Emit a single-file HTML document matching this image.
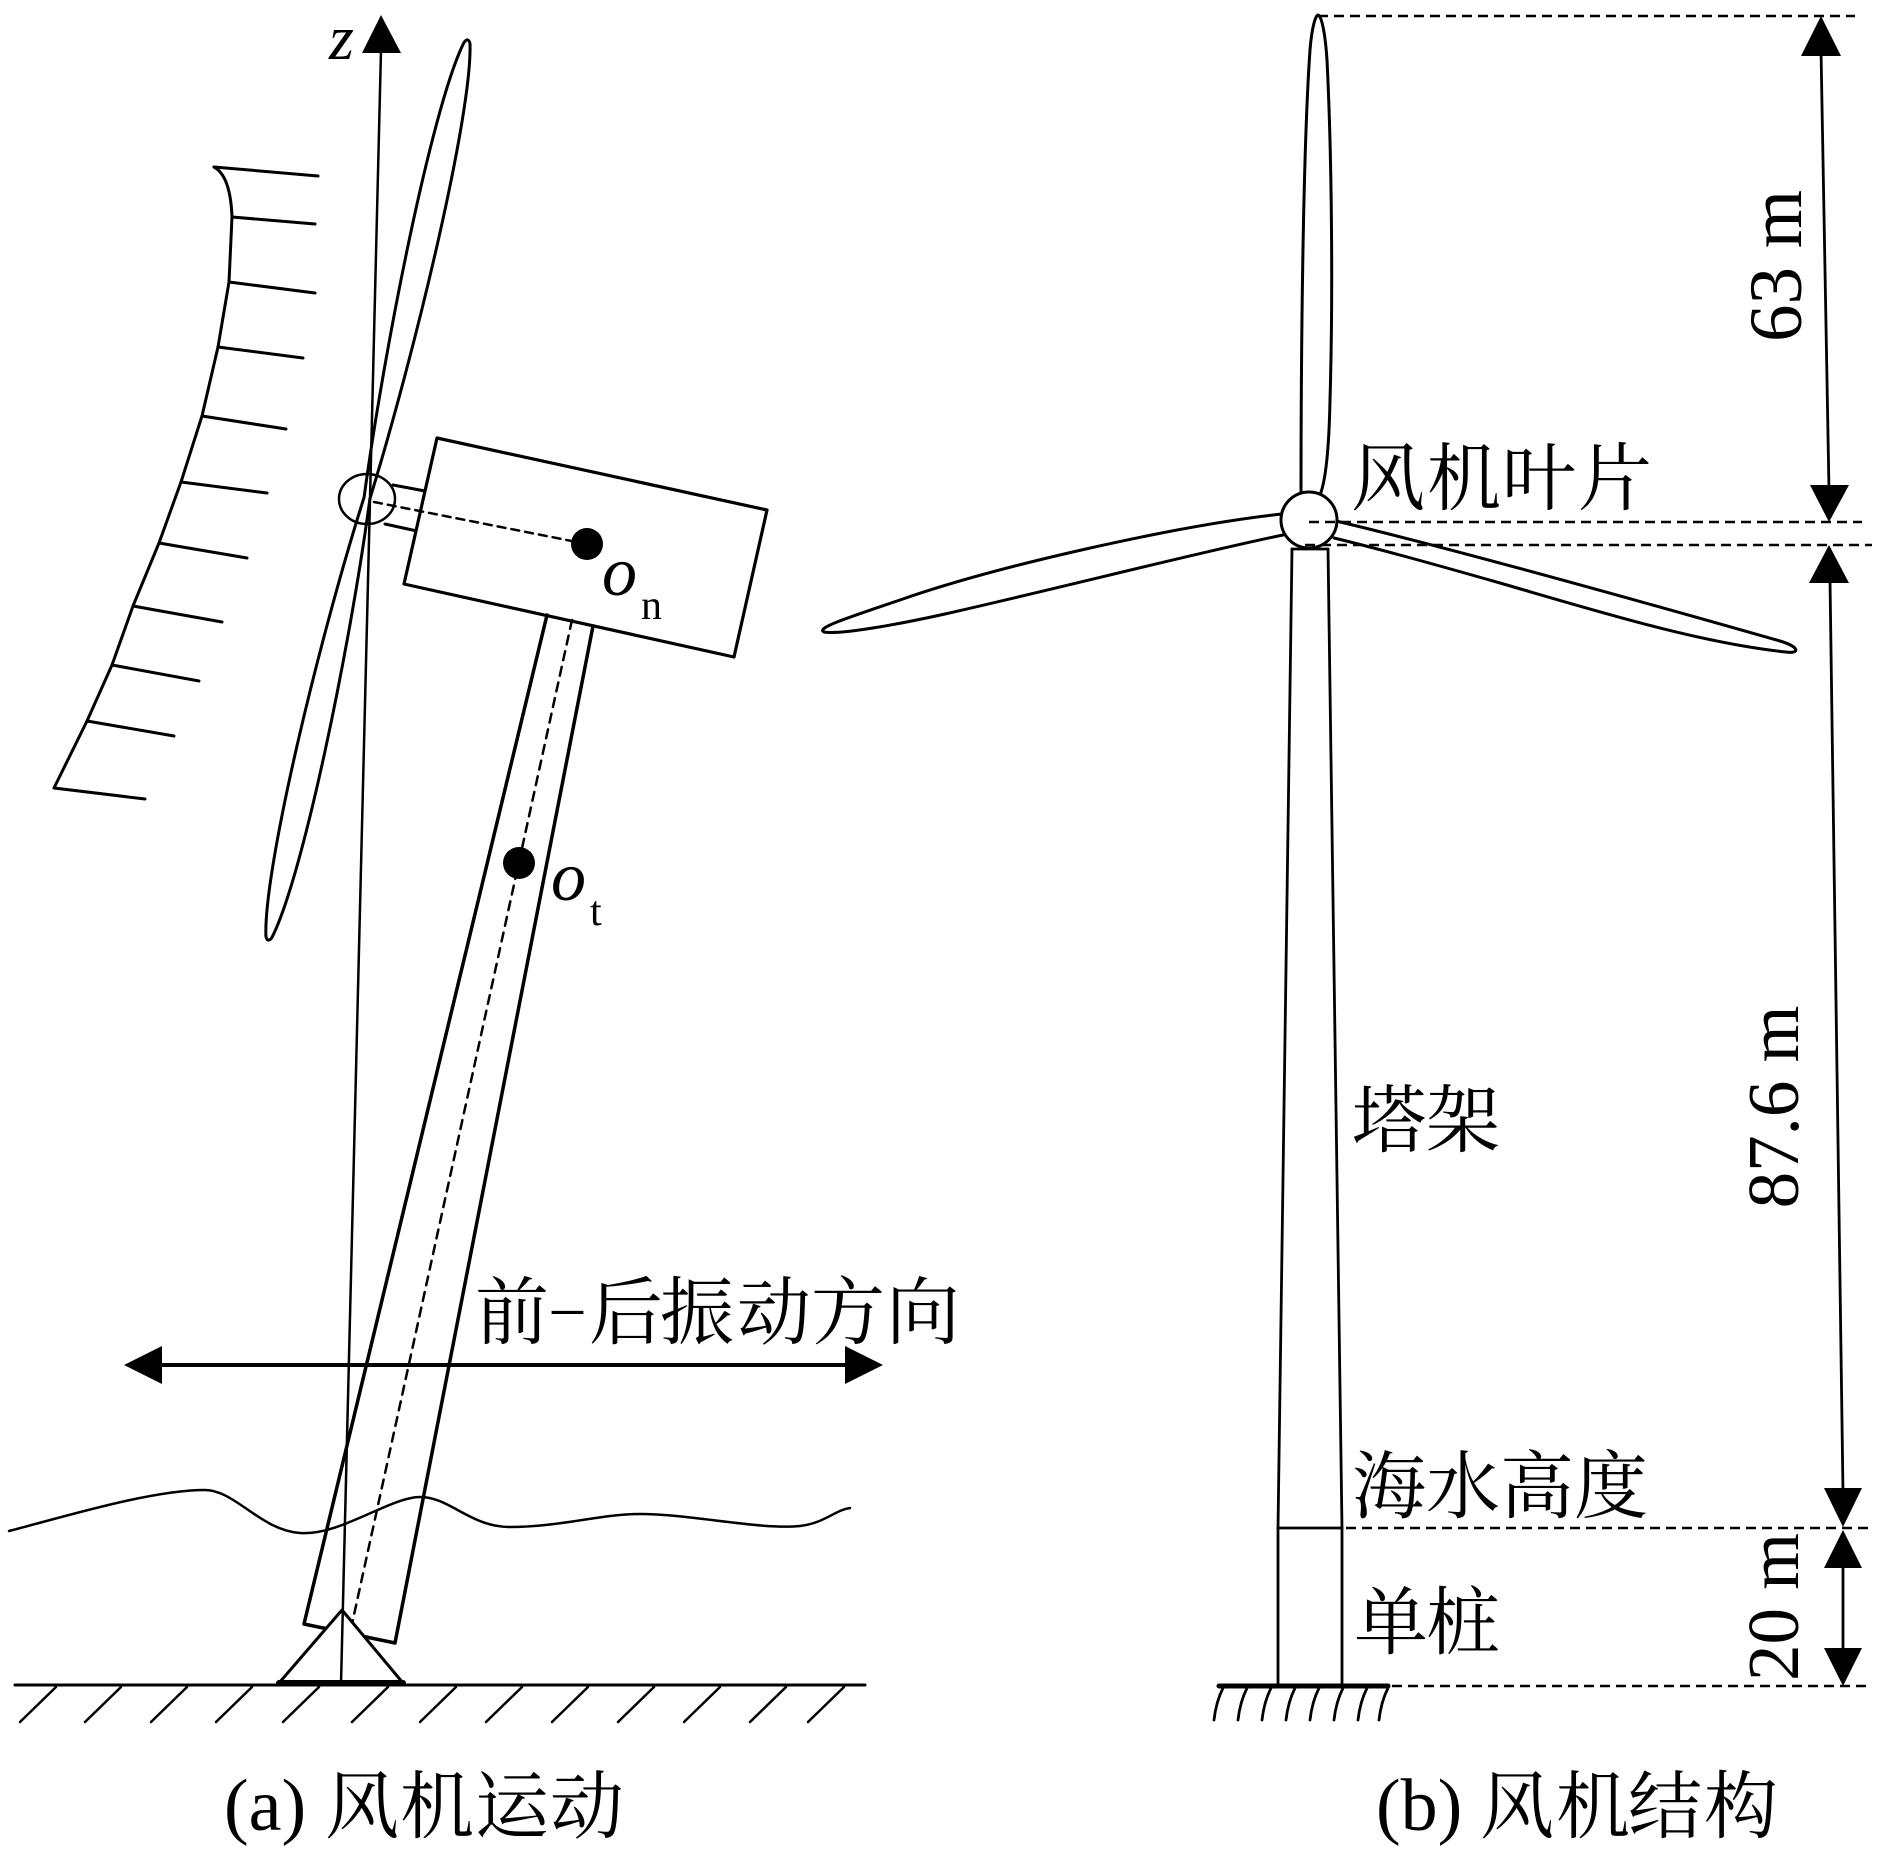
<!DOCTYPE html>
<html><head><meta charset="utf-8"><style>html,body{margin:0;padding:0;background:#fff}svg{display:block}</style></head>
<body>
<svg width="1890" height="1850" viewBox="0 0 1890 1850" xmlns="http://www.w3.org/2000/svg">
<rect width="1890" height="1850" fill="#fff"/>
<g fill="none" stroke="#000" stroke-linecap="round" stroke-linejoin="round">
<!-- ===== Panel (a) ===== -->
<!-- wind profile -->
<line x1="214" y1="167" x2="318" y2="176" stroke-width="3"/>
<path d="M214,167 C225,173 231,190 232,217 L229,282 L218,347 L202,416 L181,482 L159,543 L133,606 L112,665 L87,721 L54,788" stroke-width="3"/>
<g stroke-width="3">
<line x1="232" y1="217" x2="315" y2="224"/>
<line x1="229" y1="282" x2="315" y2="293"/>
<line x1="218" y1="347" x2="303" y2="358"/>
<line x1="202" y1="416" x2="286" y2="429"/>
<line x1="181" y1="482" x2="267" y2="493"/>
<line x1="159" y1="543" x2="247" y2="558"/>
<line x1="133" y1="606" x2="222" y2="622"/>
<line x1="112" y1="665" x2="199" y2="681"/>
<line x1="87" y1="721" x2="174" y2="736"/>
<line x1="54" y1="788" x2="145" y2="799"/>
</g>
<!-- blades (a) -->
<path transform="translate(367,498) rotate(12.4)" d="M-3,0 C-16,-160 -20,-400 -3,-466 Q0,-472 3,-466 C20,-400 16,-160 3,0" stroke-width="3"/>
<path transform="translate(367,498) rotate(12.6)" d="M-3,0 C-16,150 -20,385 -3,450 Q0,456 3,450 C20,385 16,150 3,0" stroke-width="3"/>
<!-- hub (a) -->
<ellipse cx="367" cy="499" rx="28" ry="25" stroke-width="2.5"/>
<!-- shaft -->
<line x1="393" y1="485" x2="425" y2="491" stroke-width="3"/>
<line x1="385" y1="524" x2="417" y2="531" stroke-width="3"/>
<!-- nacelle -->
<polygon points="437,438 767,510 734,657 404,584" fill="#fff" stroke-width="3.2"/>
<line x1="374" y1="502" x2="587" y2="544" stroke-width="2.5" stroke-dasharray="8 6"/>
<!-- tower (a) -->
<polyline points="547,615 304,1624 395,1643 593,626" stroke-width="3.5"/>
<line x1="572" y1="620" x2="350" y2="1633" stroke-width="2.5" stroke-dasharray="9 7"/>
<!-- wave -->
<path d="M9,1531 C60,1518 150,1490 205,1490 C235,1490 260,1530 300,1533 C340,1536 390,1497 420,1497 C450,1497 470,1527 510,1527 C560,1527 600,1514 640,1514 C690,1514 760,1530 800,1526 C825,1523 835,1510 850,1508" stroke-width="2.5"/>
<!-- support triangle -->
<polygon points="342,1610 279,1683 403,1683" fill="#fff" stroke-width="3"/>
<line x1="279" y1="1683" x2="403" y2="1683" stroke-width="6"/>
<!-- z axis -->
<line x1="381" y1="50" x2="341" y2="1684" stroke-width="2.5"/>
<!-- ground -->
<line x1="15" y1="1685" x2="865" y2="1685" stroke-width="3"/>
<g stroke-width="2.5">
<line x1="20" y1="1722" x2="56" y2="1687"/>
<line x1="85" y1="1722" x2="121" y2="1687"/>
<line x1="151" y1="1722" x2="187" y2="1687"/>
<line x1="216" y1="1722" x2="252" y2="1687"/>
<line x1="283" y1="1722" x2="319" y2="1687"/>
<line x1="352" y1="1722" x2="388" y2="1687"/>
<line x1="420" y1="1722" x2="456" y2="1687"/>
<line x1="486" y1="1722" x2="522" y2="1687"/>
<line x1="552" y1="1722" x2="588" y2="1687"/>
<line x1="618" y1="1722" x2="654" y2="1687"/>
<line x1="684" y1="1722" x2="720" y2="1687"/>
<line x1="750" y1="1722" x2="786" y2="1687"/>
<line x1="808" y1="1722" x2="844" y2="1687"/>
</g>
<!-- double arrow -->
<line x1="150" y1="1365" x2="858" y2="1365" stroke-width="4"/>
<!-- ===== Panel (b) ===== -->
<!-- tower -->
<polyline points="1292,549 1278,1528 1278,1686" stroke-width="2.8"/>
<polyline points="1328,549 1342,1528 1342,1686" stroke-width="2.8"/>
<line x1="1292" y1="549" x2="1328" y2="549" stroke-width="2.8"/>
<line x1="1278" y1="1528" x2="1342" y2="1528" stroke-width="2.8"/>
<!-- blades (b) -->
<path d="M1301,495 C1301,350 1303,150 1310,50 C1312,25 1316,15 1318,15 C1321,15 1325,30 1327,60 C1332,160 1333,300 1330,400 C1329,450 1326,480 1320,495" stroke-width="3"/>
<path d="M1282,514 C1180,525 1000,565 900,600 C850,617 815,628 824,632 C840,635 900,624 945,614 C1060,588 1200,552 1283,535" stroke-width="3"/>
<path d="M1336,521 C1450,548 1650,604 1780,641 C1800,647 1800,654 1786,652 C1700,643 1600,612 1500,583 C1430,563 1380,549 1334,538" stroke-width="3"/>
<circle cx="1309" cy="520" r="28" fill="#fff" stroke-width="3"/>
<!-- dashed guides -->
<g stroke-width="2.5" stroke-dasharray="10 6" stroke-linecap="butt">
<line x1="1318" y1="16" x2="1855" y2="16"/>
<line x1="1309" y1="522" x2="1862" y2="522"/>
<line x1="1305" y1="545" x2="1872" y2="545"/>
<line x1="1346" y1="1528" x2="1870" y2="1528"/>
<line x1="1392" y1="1686" x2="1870" y2="1686"/>
</g>
<!-- base hatch (b) -->
<line x1="1219" y1="1686" x2="1388" y2="1686" stroke-width="5"/>
<g stroke-width="2.8">
<path d="M1223,1688 Q1216,1702 1214,1720"/>
<path d="M1247,1688 Q1240,1702 1238,1720"/>
<path d="M1271,1688 Q1264,1702 1262,1720"/>
<path d="M1295,1688 Q1288,1702 1286,1720"/>
<path d="M1319,1688 Q1312,1702 1310,1720"/>
<path d="M1343,1688 Q1336,1702 1334,1720"/>
<path d="M1367,1688 Q1360,1702 1358,1720"/>
<path d="M1388,1688 Q1381,1702 1379,1720"/>
</g>
<!-- dimension lines -->
<line x1="1821" y1="50" x2="1829" y2="490" stroke-width="2.8"/>
<line x1="1830" y1="580" x2="1843" y2="1492" stroke-width="2.8"/>
<line x1="1843" y1="1565" x2="1843" y2="1650" stroke-width="2.8"/>
</g>
<g fill="#000" stroke="none">
<polygon points="381,15 362,53 401,53"/>
<polygon points="124,1365 162,1346 162,1384"/>
<polygon points="883,1365 845,1346 845,1384"/>
<circle cx="587" cy="544" r="16"/>
<circle cx="519" cy="863" r="16"/>
<polygon points="1821,16 1801,56 1841,56"/>
<polygon points="1829,522 1810,485 1849,485"/>
<polygon points="1829,545 1809,583 1849,583"/>
<polygon points="1843,1527 1824,1488 1862,1488"/>
<polygon points="1843,1530 1824,1568 1862,1568"/>
<polygon points="1843,1686 1824,1648 1862,1648"/>
</g>
<!-- text -->
<g fill="#000" font-family="'Liberation Serif', serif">
<text x="329" y="59" font-size="64" font-style="italic">z</text>
<text x="602" y="595" font-size="70" font-style="italic">o</text>
<text x="641" y="619" font-size="42">n</text>
<text x="551" y="900" font-size="70" font-style="italic">o</text>
<text x="590" y="925" font-size="42">t</text>
<text x="224" y="1830" font-size="74">(a)</text>
<text x="1376" y="1830" font-size="74">(b)</text>
<text x="552" y="1327" font-size="62">–</text>
<text transform="translate(1801,266) rotate(-90)" text-anchor="middle" font-size="75">63 m</text>
<text transform="translate(1798,1107) rotate(-90)" text-anchor="middle" font-size="73">87.6 m</text>
<text transform="translate(1798,1607) rotate(-90)" text-anchor="middle" font-size="73">20 m</text>
</g>
<g fill="#000" font-family="'Liberation Serif', 'Noto Serif CJK SC', serif" font-size="74">
<text x="475" y="1338">前</text>
<text x="589 660 737 811 886" y="1338">后振动方向</text>
<text x="325 400 475 550" y="1832">风机运动</text>
<text x="1480 1556 1628 1704" y="1832">风机结构</text>
<text x="1351 1427 1502 1578" y="504">风机叶片</text>
<text x="1352 1426" y="1146">塔架</text>
<text x="1352 1426 1500 1574" y="1512">海水高度</text>
<text x="1354 1426" y="1648">单桩</text>
</g>
</svg>
</body></html>
